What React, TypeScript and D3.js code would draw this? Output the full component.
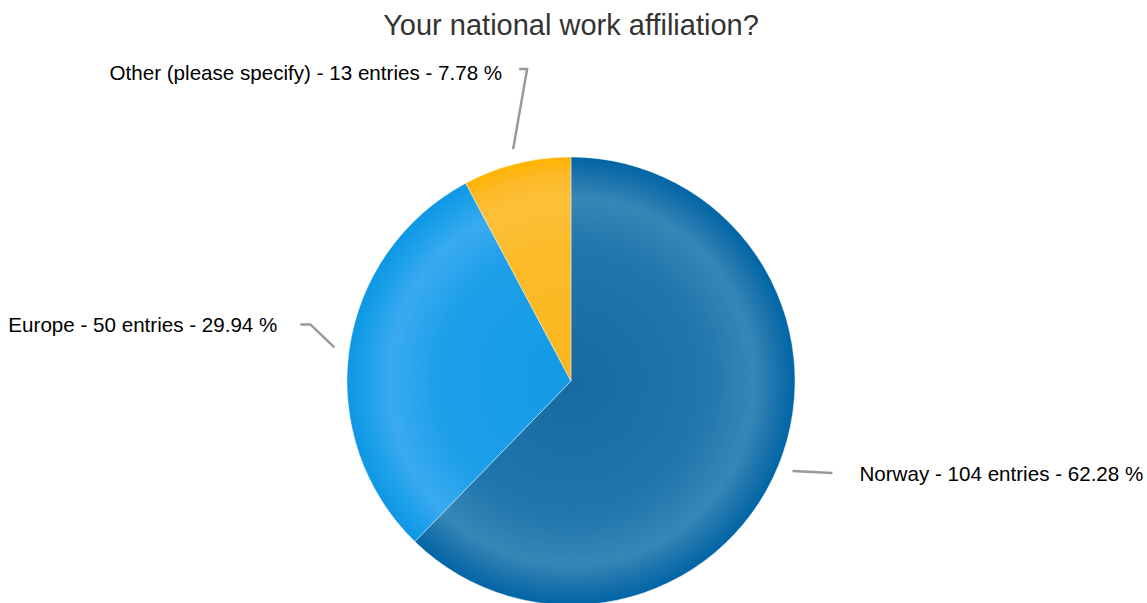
import React from "react";
import * as d3 from "d3";

const categories = ["Norway", "Europe", "Other (please specify)"];
const entries = [104, 50, 13];
const percents = [62.28, 29.94, 7.78];
const title = "Your national work affiliation?";

const W = 1147;
const H = 603;
const cx = 571;
const cy = 381;
const R = 224;

const gradStops = [
  [
    ["0", "#176aa2"],
    ["0.6", "#2176ad"],
    ["0.82", "#3786b7"],
    ["0.92", "#1a72ac"],
    ["1", "#0065a6"],
  ],
  [
    ["0", "#139be6"],
    ["0.6", "#1d9fe9"],
    ["0.81", "#3aaaf0"],
    ["0.92", "#1da0ea"],
    ["1", "#0d97e4"],
  ],
  [
    ["0", "#fbb61c"],
    ["0.6", "#fbbb2a"],
    ["0.82", "#fcc03a"],
    ["0.92", "#fdb928"],
    ["1", "#ffb300"],
  ],
];

const labelLayout = [
  { ex: 40, ey: 2, hx: 0, anchor: "start", tx: 27, ty: 8.5 },
  { ex: -24, ey: -23, hx: -10, anchor: "end", tx: -33, ty: 8 },
  { ex: 14, ey: -80, hx: -8, anchor: "end", tx: -25, ty: 11 },
];

export default function App() {
  const data = categories.map((c, i) => ({ c, v: entries[i], p: percents[i], i }));
  const pie = d3.pie<any>().sort(null).value((d) => d.v).startAngle(0).endAngle(Math.PI * 2);
  const arcs = pie(data);
  const arc = d3.arc<any>().innerRadius(0).outerRadius(R);

  return (
    <svg width={W} height={H} style={{ position: "absolute", left: 0, top: 0 }}>
      <defs>
        {gradStops.map((stops, i) => (
          <radialGradient key={i} id={`g${i}`} gradientUnits="userSpaceOnUse" cx={0} cy={0} r={R}>
            {stops.map(([o, c], j) => (
              <stop key={j} offset={o} stopColor={c} />
            ))}
          </radialGradient>
        ))}
      </defs>
      <text
        x={cx}
        y={35}
        textAnchor="middle"
        fontFamily="Liberation Sans, Arial, sans-serif"
        fontSize={29}
        fill="#333333"
      >
        {title}
      </text>
      <g transform={`translate(${cx},${cy})`}>
        {arcs.map((a, i) => (
          <path key={i} d={arc(a) || ""} fill={`url(#g${i})`} stroke="#ffffff" strokeWidth={0.4} />
        ))}
        {arcs.map((a, i) => {
          const mid = (a.startAngle + a.endAngle) / 2;
          const r2 = R + 15;
          const x0 = r2 * Math.sin(mid);
          const y0 = -r2 * Math.cos(mid);
          const L = labelLayout[i];
          const x1 = x0 + L.ex;
          const y1 = y0 + L.ey;
          const x2 = x1 + L.hx;
          const label = `${a.data.c} - ${a.data.v} entries - ${a.data.p.toFixed(2)} %`;
          return (
            <g key={"l" + i}>
              <polyline
                points={`${x0},${y0} ${x1},${y1} ${x2},${y1}`}
                fill="none"
                stroke="#999999"
                strokeWidth={2.5}
              />
              <text
                x={x1 + L.tx}
                y={y1 + L.ty}
                textAnchor={L.anchor as any}
                fontFamily="Liberation Sans, Arial, sans-serif"
                fontSize={20.6}
                fill="#000000"
              >
                {label}
              </text>
            </g>
          );
        })}
      </g>
    </svg>
  );
}
